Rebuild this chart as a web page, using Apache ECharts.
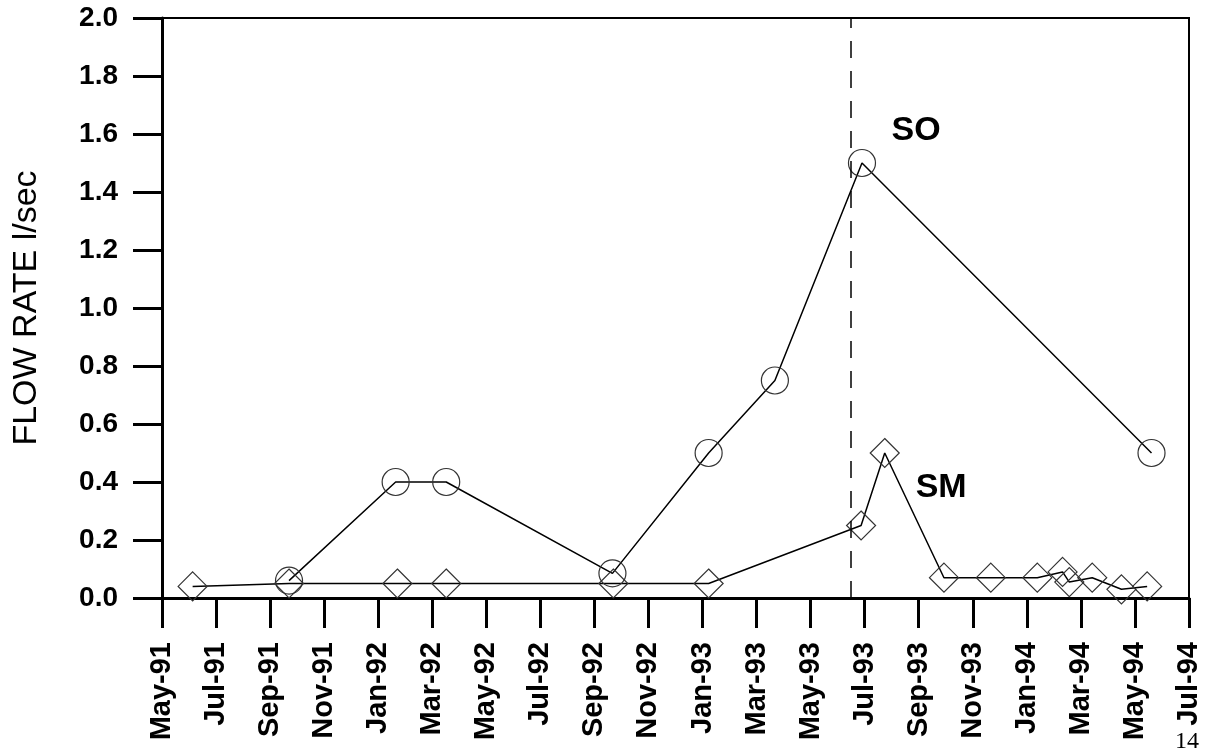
<!DOCTYPE html>
<html>
<head>
<meta charset="utf-8">
<script src="https://cdn.jsdelivr.net/npm/echarts@6/dist/echarts.min.js"></script>
<style>
  html, body { margin: 0; padding: 0; background: #fff; }
  #chart { width: 1208px; height: 755px; }
</style>
</head>
<body>
<div id="chart"></div>
<script>
// Tick labels every two months, starting May 1991
const tickLabels = ['May-91','Jul-91','Sep-91','Nov-91','Jan-92','Mar-92','May-92','Jul-92',
  'Sep-92','Nov-92','Jan-93','Mar-93','May-93','Jul-93','Sep-93','Nov-93','Jan-94','Mar-94',
  'May-94','Jul-94'];

// SO station: sampling dates and flow rate (l/sec)
const soDates = ['1991-09-22','1992-01-21','1992-03-17','1992-09-21','1993-01-08','1993-03-22',
  '1993-06-28','1994-05-20'];
const soFlow = [0.06, 0.40, 0.40, 0.085, 0.50, 0.75, 1.50, 0.50];

// SM station: sampling dates and flow rate (l/sec)
const smDates = ['1991-06-05','1991-09-22','1992-01-23','1992-03-17','1992-09-22','1993-01-08',
  '1993-06-27','1993-07-24','1993-09-29','1993-11-21','1994-01-13','1994-02-10','1994-02-17',
  '1994-03-14','1994-04-16','1994-05-15'];
const smFlow = [0.04, 0.05, 0.05, 0.05, 0.05, 0.05, 0.25, 0.50, 0.07, 0.07, 0.07, 0.09, 0.055,
  0.07, 0.03, 0.04];

// Date of the dashed reference line
const eventDate = '1993-06-16';

// Months elapsed since 1 May 1991 (fractional, by day of month)
function monthOffset(s) {
  const [y, m, d] = s.split('-').map(Number);
  const dim = new Date(y, m, 0).getDate();
  return (y - 1991) * 12 + (m - 5) + (d - 1) / dim;
}
const pairs = (dates, vals) => dates.map((d, i) => [monthOffset(d), vals[i]]);

const FONT = '"Liberation Sans", Arial, Helvetica, sans-serif';

// Series name written next to its curve
function nameTag(text, coord) {
  return {
    symbol: 'circle', symbolSize: 1, silent: true,
    itemStyle: { color: 'rgba(0,0,0,0)' },
    label: { show: true, position: 'inside', color: '#000', fontFamily: FONT, fontSize: 34,
             fontWeight: 'bold', formatter: text },
    data: [{ coord: coord }]
  };
}

const chart = echarts.init(document.getElementById('chart'), null, { renderer: 'canvas' });
chart.setOption({
  animation: false,
  backgroundColor: '#fff',
  grid: {
    left: 162, right: 19, top: 18, bottom: 157,
    show: true, borderColor: '#000', borderWidth: 2, backgroundColor: 'transparent'
  },
  xAxis: {
    type: 'value', min: 0, max: 38, interval: 2,
    axisLine: { show: true, onZero: false, lineStyle: { color: '#000', width: 3 } },
    axisTick: { show: true, length: 30, lineStyle: { color: '#000', width: 3 } },
    splitLine: { show: false },
    axisLabel: {
      rotate: 90, margin: 44, color: '#000', fontFamily: FONT, fontSize: 29, fontWeight: 'bold',
      formatter: v => tickLabels[Math.round(v / 2)] || ''
    }
  },
  yAxis: {
    type: 'value', min: 0, max: 2, interval: 0.2,
    name: 'FLOW RATE l/sec', nameLocation: 'middle', nameGap: 118,
    nameTextStyle: { color: '#000', fontFamily: FONT, fontSize: 34, fontWeight: 'normal' },
    axisLine: { show: true, lineStyle: { color: '#000', width: 3 } },
    axisTick: { show: true, length: 29, lineStyle: { color: '#000', width: 3 } },
    splitLine: { show: false },
    axisLabel: {
      margin: 44, color: '#000', fontFamily: FONT, fontSize: 28, fontWeight: 'bold',
      formatter: v => v.toFixed(1)
    }
  },
  series: [
    {
      name: 'SO', type: 'line', data: pairs(soDates, soFlow),
      symbol: 'circle', symbolSize: 27,
      itemStyle: { color: 'rgba(0,0,0,0)', borderColor: '#333', borderWidth: 1.2 },
      lineStyle: { color: '#000', width: 1.5 },
      markLine: {
        silent: true, symbol: 'none', label: { show: false },
        lineStyle: { color: '#000', width: 1.5, type: [17, 13] },
        data: [{ xAxis: monthOffset(eventDate) }]
      },
      markPoint: nameTag('SO', [27.9, 1.61])
    },
    {
      name: 'SM', type: 'line', data: pairs(smDates, smFlow),
      symbol: 'diamond', symbolSize: 29,
      itemStyle: { color: 'rgba(0,0,0,0)', borderColor: '#333', borderWidth: 1.2 },
      lineStyle: { color: '#000', width: 1.5 },
      markPoint: nameTag('SM', [28.83, 0.38])
    }
  ],
  graphic: [{
    type: 'text', left: 1175, top: 730,
    style: { text: '14', fill: '#000', font: '24px "Liberation Serif", "Times New Roman", serif' }
  }]
});
</script>
</body>
</html>
